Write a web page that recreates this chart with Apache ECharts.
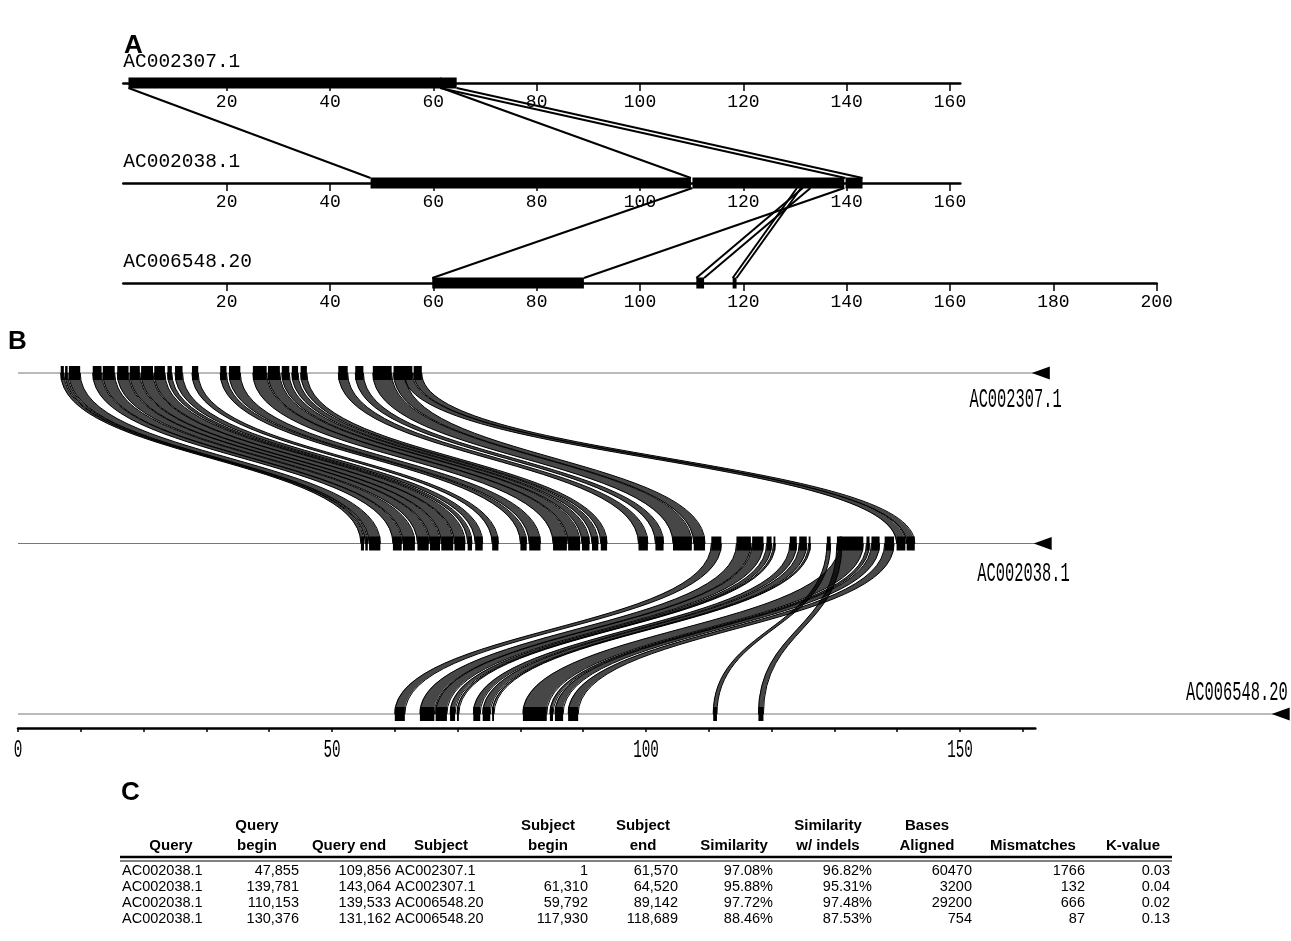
<!DOCTYPE html>
<html>
<head>
<meta charset="utf-8">
<script src="https://cdn.jsdelivr.net/npm/echarts@6/dist/echarts.min.js"></script>
<style>
  html, body { margin: 0; padding: 0; background: #fff; }
  #chart { width: 1291px; height: 941px; }
</style>
</head>
<body>
<div id="chart"></div>
<script>
// sequences, top track to bottom track
const seqNames = ['AC002307.1', 'AC002038.1', 'AC006548.20']

// panel A: axis length of each track (kb) and tick labels
const axisLenA = [162, 162, 200]
const ticksA = [20, 40, 60, 80, 100, 120, 140, 160]
const ticksA3 = [20, 40, 60, 80, 100, 120, 140, 160, 180, 200]

// panel A: aligned blocks [track, begin kb, end kb]
const blocksA = [
  [0, 1, 61.57], [0, 61.31, 64.52],
  [1, 47.855, 109.856], [1, 110.153, 139.533], [1, 139.781, 143.064],
  [2, 59.792, 89.142], [2, 110.9, 112.4], [2, 117.93, 118.689]
]

// panel A: links [upper track, kb on upper, kb on lower]
const linksA = [
  [0, 1, 47.855], [0, 61.57, 109.856], [0, 61.31, 139.781], [0, 64.52, 143.064],
  [1, 110.153, 59.792], [1, 139.533, 89.142],
  [1, 130.376, 117.93], [1, 131.162, 118.689],
  [1, 131.5, 110.9], [1, 133.0, 112.4]
]

// panel B: sequence length (kb), axis ticks
const seqLenB = [164.3, 164.6, 202.5]
const ticksB = [0, 50, 100, 150]
const minorTicksB = [0, 10, 20, 30, 40, 50, 60, 70, 80, 90, 100, 110, 120, 130, 140, 150, 160]

// panel B: local alignments [upper track, upper begin, upper end, lower begin, lower end]
const hspB = [
  [0, 6.8, 7.3, 54.6, 55.1],
  [0, 7.5, 7.9, 55.3, 55.7],
  [0, 8.1, 9.9, 55.9, 57.7],
  [0, 11.9, 13.3, 59.7, 61.1],
  [0, 13.5, 15.4, 61.3, 63.2],
  [0, 15.8, 17.6, 63.6, 65.4],
  [0, 17.8, 19.4, 65.6, 67.2],
  [0, 19.6, 21.5, 67.4, 69.3],
  [0, 21.7, 23.4, 69.5, 71.2],
  [0, 23.8, 24.5, 71.6, 72.3],
  [0, 25.0, 26.2, 72.8, 74.0],
  [0, 27.7, 28.7, 75.5, 76.5],
  [0, 32.2, 33.2, 80.0, 81.0],
  [0, 33.6, 35.4, 81.4, 83.2],
  [0, 37.4, 39.6, 85.2, 87.4],
  [0, 39.8, 41.7, 87.6, 89.5],
  [0, 42.0, 43.2, 89.8, 91.0],
  [0, 43.6, 44.6, 91.4, 92.4],
  [0, 45.0, 46.0, 92.8, 93.8],
  [0, 51.0, 52.5, 98.8, 100.3],
  [0, 53.7, 55.0, 101.5, 102.8],
  [0, 56.5, 59.5, 104.3, 107.3],
  [0, 59.8, 61.6, 107.6, 109.4],
  [0, 61.4, 62.8, 139.9, 141.3],
  [0, 63.0, 64.3, 141.5, 142.8],
  [1, 110.4, 112.0, 60.0, 61.6],
  [1, 114.4, 116.7, 64.0, 66.3],
  [1, 116.9, 118.7, 66.5, 68.3],
  [1, 119.2, 120.0, 68.8, 69.6],
  [1, 120.3, 120.6, 69.9, 70.2],
  [1, 122.9, 124.0, 72.5, 73.6],
  [1, 124.4, 125.6, 74.0, 75.2],
  [1, 125.9, 126.2, 75.5, 75.8],
  [1, 130.8, 134.6, 80.4, 84.2],
  [1, 135.1, 135.6, 84.7, 85.2],
  [1, 135.9, 137.2, 85.5, 86.8],
  [1, 138.0, 139.5, 87.6, 89.2],
  [1, 128.8, 129.4, 110.7, 111.3],
  [1, 130.4, 131.2, 117.9, 118.7]
]

// panel C table
const headRow1 = ['', 'Query', '', '', 'Subject', 'Subject', '', 'Similarity', 'Bases', '', '']
const headRow2 = ['Query', 'begin', 'Query end', 'Subject', 'begin', 'end', 'Similarity', 'w/ indels', 'Aligned', 'Mismatches', 'K-value']
const tableRows = [
  ['AC002038.1', '47,855', '109,856', 'AC002307.1', '1', '61,570', '97.08%', '96.82%', '60470', '1766', '0.03'],
  ['AC002038.1', '139,781', '143,064', 'AC002307.1', '61,310', '64,520', '95.88%', '95.31%', '3200', '132', '0.04'],
  ['AC002038.1', '110,153', '139,533', 'AC006548.20', '59,792', '89,142', '97.72%', '97.48%', '29200', '666', '0.02'],
  ['AC002038.1', '130,376', '131,162', 'AC006548.20', '117,930', '118,689', '88.46%', '87.53%', '754', '87', '0.13']
]

const MONO = '"Liberation Mono", "DejaVu Sans Mono", monospace'
const SANS = '"Liberation Sans", Arial, sans-serif'

// layout
const pxA = 5.167
const leftA = 123.3
const pxB = 6.28
const leftB = 18

function trackAxis(grid, len, ticks) {
  return {
    type: 'value', gridIndex: grid, min: 0, max: len,
    axisLine: { show: true, onZero: false, lineStyle: { color: '#000', width: 2.5 } },
    axisTick: { show: true, inside: false, length: 8, customValues: ticks,
      lineStyle: { color: '#000', width: 1.5 } },
    axisLabel: { show: true, customValues: ticks, margin: 10, color: '#000',
      fontFamily: MONO, fontSize: 18 },
    splitLine: { show: false }
  }
}

function hiddenY(grid, max) {
  return { type: 'value', gridIndex: grid, min: 0, max: max, inverse: true, show: false }
}

function renderBlockA(params, api) {
  const t = api.value(0)
  const p0 = api.coord([api.value(1), t])
  const p1 = api.coord([api.value(2), t])
  return {
    type: 'rect',
    shape: { x: p0[0], y: p0[1] - 5.5, width: Math.max(2, p1[0] - p0[0]), height: 11 },
    style: { fill: '#000' }
  }
}

function renderLinkA(params, api) {
  const t = api.value(0)
  const a = api.coord([api.value(1), t])
  const b = api.coord([api.value(2), t + 1])
  return {
    type: 'line',
    shape: { x1: a[0], y1: a[1] + 5, x2: b[0], y2: b[1] - 5 },
    style: { stroke: '#000', lineWidth: 2 }
  }
}

function renderNameA(params, api) {
  const p = api.coord([0, params.dataIndex])
  return {
    type: 'text', x: p[0], y: p[1] - 21,
    style: { text: seqNames[params.dataIndex], fontFamily: MONO, fontSize: 19.5,
      fill: '#000', align: 'left', verticalAlign: 'middle' }
  }
}

function renderRibbonB(params, api) {
  const t = api.value(0)
  const a0 = api.coord([api.value(1), t])
  const a1 = api.coord([api.value(2), t])
  const b0 = api.coord([api.value(3), t + 1])
  const b1 = api.coord([api.value(4), t + 1])
  const ym = (a0[1] + b0[1]) / 2
  const d = 'M' + a0[0] + ',' + a0[1] +
    ' C' + a0[0] + ',' + ym + ' ' + b0[0] + ',' + ym + ' ' + b0[0] + ',' + b0[1] +
    ' L' + b1[0] + ',' + b1[1] +
    ' C' + b1[0] + ',' + ym + ' ' + a1[0] + ',' + ym + ' ' + a1[0] + ',' + a1[1] + ' Z'
  return {
    type: 'path',
    shape: { pathData: d },
    style: { fill: 'rgba(0,0,0,0.72)', stroke: '#000', lineWidth: 1 }
  }
}

function renderBlocksB(params, api) {
  const t = api.value(0)
  const a0 = api.coord([api.value(1), t])
  const a1 = api.coord([api.value(2), t])
  const b0 = api.coord([api.value(3), t + 1])
  const b1 = api.coord([api.value(4), t + 1])
  return {
    type: 'group',
    children: [
      { type: 'rect', shape: { x: a0[0], y: a0[1] - 7, width: Math.max(1.5, a1[0] - a0[0]), height: 14 },
        style: { fill: '#000' } },
      { type: 'rect', shape: { x: b0[0], y: b0[1] - 7, width: Math.max(1.5, b1[0] - b0[0]), height: 14 },
        style: { fill: '#000' } }
    ]
  }
}

// label offsets from the arrow end, per track
const labelOffB = [[12, 27], [18, 30], [-2, -21]]

function renderTrackB(params, api) {
  const t = params.dataIndex
  const s = api.coord([0, t])
  const e = api.coord([api.value(0), t])
  const off = labelOffB[t]
  return {
    type: 'group',
    children: [
      { type: 'line', shape: { x1: s[0], y1: s[1], x2: e[0] - 10, y2: e[1] },
        style: { stroke: '#777', lineWidth: 1 } },
      { type: 'polygon', shape: { points: [[e[0] - 18, e[1]], [e[0], e[1] - 6.5], [e[0], e[1] + 6.5]] },
        style: { fill: '#000' } },
      { type: 'text', x: e[0] + off[0], y: e[1] + off[1], scaleX: 0.55,
        style: { text: seqNames[t], fontFamily: MONO, fontSize: 28, fill: '#000',
          align: 'right', verticalAlign: 'middle' } }
    ]
  }
}

// condensed tick labels under the panel B axis, placed by the x scale
function renderTickLabelB(params, api) {
  const p = api.coord([api.value(0), 2])
  return {
    type: 'text', x: p[0], y: p[1] + 36, scaleX: 0.55,
    style: { text: String(api.value(0)), fontFamily: MONO, fontSize: 26, fill: '#000',
      align: 'center', verticalAlign: 'middle' }
  }
}

// table graphics
const colAlign = [
  [122, 'left'], [299, 'right'], [391, 'right'], [395, 'left'], [588, 'right'], [678, 'right'],
  [773, 'right'], [872, 'right'], [972, 'right'], [1085, 'right'], [1170, 'right']
]
const headCenter = [171, 257, 349, 441, 548, 643, 734, 828, 927, 1033, 1133]
const rowY = [871, 887, 903, 919]

const graphics = [
  { type: 'text', left: 124, top: 33, style: { text: 'A', font: 'bold 26px ' + SANS, fill: '#000' } },
  { type: 'text', left: 8, top: 329, style: { text: 'B', font: 'bold 26px ' + SANS, fill: '#000' } },
  { type: 'text', left: 121, top: 780, style: { text: 'C', font: 'bold 26px ' + SANS, fill: '#000' } },
  { type: 'line', shape: { x1: 120, y1: 857, x2: 1172, y2: 857 }, style: { stroke: '#000', lineWidth: 2.5 } },
  { type: 'line', shape: { x1: 120, y1: 861, x2: 1172, y2: 861 }, style: { stroke: '#000', lineWidth: 1 } }
]
headRow1.forEach((h, i) => {
  if (h) graphics.push({ type: 'text', x: headCenter[i], y: 826,
    style: { text: h, fontFamily: SANS, fontWeight: 'bold', fontSize: 15, fill: '#000', align: 'center', verticalAlign: 'middle' } })
})
headRow2.forEach((h, i) => {
  graphics.push({ type: 'text', x: headCenter[i], y: 846,
    style: { text: h, fontFamily: SANS, fontWeight: 'bold', fontSize: 15, fill: '#000', align: 'center', verticalAlign: 'middle' } })
})
tableRows.forEach((row, r) => {
  row.forEach((cell, c) => {
    graphics.push({ type: 'text', x: colAlign[c][0], y: rowY[r],
      style: { text: cell, fontFamily: SANS, fontSize: 14.5, fill: '#000', align: colAlign[c][1], verticalAlign: 'middle' } })
  })
})

const chart = echarts.init(document.getElementById('chart'), null, { renderer: 'canvas' })

chart.setOption({
  backgroundColor: '#fff',
  animation: false,
  grid: [
    { left: leftA, top: 83, width: 200 * pxA, height: 200 },
    { left: leftA, top: 63, width: axisLenA[0] * pxA, height: 20 },
    { left: leftA, top: 163, width: axisLenA[1] * pxA, height: 20 },
    { left: leftA, top: 263, width: axisLenA[2] * pxA, height: 20 },
    { left: leftB, top: 373, width: 162 * pxB, height: 341 }
  ],
  xAxis: [
    { type: 'value', gridIndex: 0, min: 0, max: 200, show: false },
    trackAxis(1, axisLenA[0], ticksA),
    trackAxis(2, axisLenA[1], ticksA),
    trackAxis(3, axisLenA[2], ticksA3),
    {
      type: 'value', gridIndex: 4, min: 0, max: 162, offset: 14,
      axisLine: { show: true, onZero: false, lineStyle: { color: '#000', width: 2.5 } },
      axisTick: { show: true, inside: false, length: 4, customValues: minorTicksB,
        lineStyle: { color: '#000', width: 1.5 } },
      axisLabel: { show: false },
      splitLine: { show: false }
    }
  ],
  yAxis: [hiddenY(0, 2), hiddenY(1, 1), hiddenY(2, 1), hiddenY(3, 1), hiddenY(4, 2)],
  series: [
    { type: 'custom', name: 'links A', xAxisIndex: 0, yAxisIndex: 0, renderItem: renderLinkA, data: linksA, z: 2 },
    { type: 'custom', name: 'blocks A', xAxisIndex: 0, yAxisIndex: 0, renderItem: renderBlockA, data: blocksA, z: 3 },
    { type: 'custom', name: 'names A', xAxisIndex: 0, yAxisIndex: 0, renderItem: renderNameA, data: seqNames.map(() => [0]), z: 3 },
    { type: 'custom', name: 'tracks B', xAxisIndex: 4, yAxisIndex: 4, renderItem: renderTrackB, data: seqLenB.map(v => [v]), z: 2 },
    { type: 'custom', name: 'ribbons B', xAxisIndex: 4, yAxisIndex: 4, renderItem: renderRibbonB, data: hspB, z: 3 },
    { type: 'custom', name: 'blocks B', xAxisIndex: 4, yAxisIndex: 4, renderItem: renderBlocksB, data: hspB, z: 4 },
    { type: 'custom', name: 'tick labels B', xAxisIndex: 4, yAxisIndex: 4, renderItem: renderTickLabelB, data: ticksB.map(v => [v]), z: 4 }
  ],
  graphic: graphics
})
</script>
</body>
</html>
